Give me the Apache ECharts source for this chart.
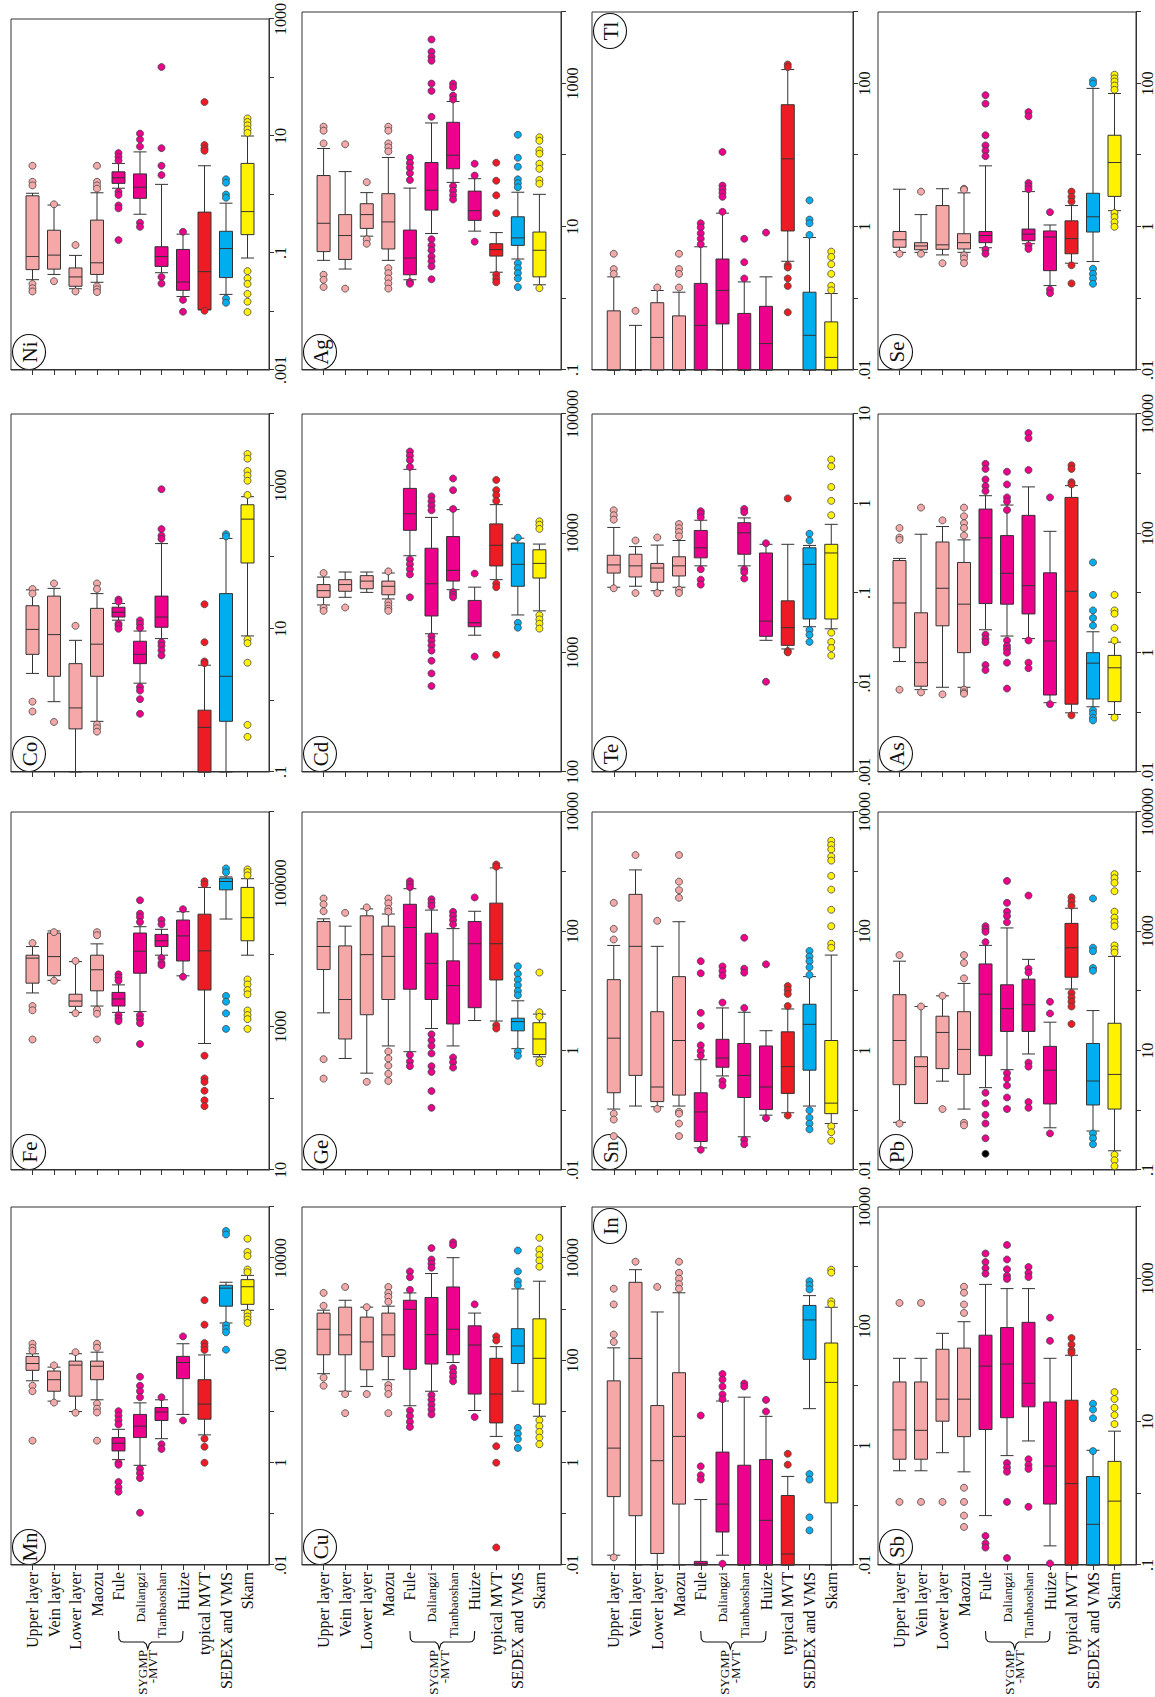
<!DOCTYPE html>
<html>
<head>
<meta charset="utf-8">
<script src="https://cdn.jsdelivr.net/npm/echarts@6/dist/echarts.min.js"></script>
<style>
  html, body { margin: 0; padding: 0; background: #fff; width: 1155px; height: 1697px; overflow: hidden; }
  /* the figure is laid out landscape and turned a quarter turn to fit the page */
  #chart { position: absolute; left: 0; top: 1697px; width: 1697px; height: 1155px;
           transform-origin: 0 0; transform: rotate(-90deg); }
</style>
</head>
<body>
<div id="chart"></div>
<script>
// ---------- categories ----------
const categories = ['Upper layer', 'Vein layer', 'Lower layer', 'Maozu', 'Fule', 'Daliangzi',
  'Tianbaoshan', 'Huize', 'typical MVT', 'SEDEX and VMS', 'Skarn'];

// ---------- box statistics [min, Q1, median, Q3, max] per category, and outliers ----------
const mnBox = [[40,64,87,120,135],[16,25,42,62,74],[10,20,81,97,135],[17,42,77,97,145],[1.15,1.7,2.4,3.1,4.5],[0.89,3.1,5.2,8.8,14.8],[2.95,6.7,9.8,12,17],[8.8,44,91,120,212],[3.5,7.1,14,42,128],[540,1150,2590,2950,3380],[955,1250,2760,3800,4600]];
const mnOut = [[212,177,155,32,25,2.7],[80,15],[145,9.5],[212,177,14.3,11.4,9.6,2.7],[10.2,8.3,6.8,5.6,1.0,0.91,0.42,0.33,0.27],[48,32,25,19,0.76,0.62,0.5,0.105],[19,2.3,1.85],[295,6.7],[1510,500,218,186,160,2.95,2.05,1.0],[34000,29000,490,420,355,162],[24000,13200,11000,6000,5300,850,720,630,540]];

const feBox = [[2970,4070,9100,10000,13200],[4460,5170,9560,20400,21800],[1590,1930,2290,2850,8130],[1950,3180,6260,10000,14400],[1590,1950,2450,3020,3850],[1630,5600,11350,20400,25000],[10000,13200,15900,19500,23000],[5150,8300,18600,31000,40500],[585,3260,11500,37400,88500],[32000,81800,107000,119000,124000],[10000,15900,33400,88500,117000]];
const feOut = [[14800,1950,1700,665],[21000,4400],[8300,1550],[21000,19000,1730,1520,665],[5400,4900,4400,1450,1300,1200],[58500,38000,34000,29000,1450,1280,1120,575],[31000,27000,9150,7800,7250],[44000,5000],[108000,98000,395,190,170,128,94,78],[163000,144000,2700,2240,1540,935],[158000,145000,130000,4580,3900,3260,2840,1690,1460,1280,935]];

const coBox = [[2.38,4.4,9.8,21,35],[0.96,2.17,8.3,28.6,36.7],[0.1,0.4,0.785,3.26,6.9],[0.51,2.17,6.1,19.3,31],[13.2,14.6,17,20,22.6],[1.74,3.26,4.4,6.7,9.3],[7.3,10.5,14.6,28.6,155],null,[0.1,0.1,0.42,0.73,3.1],[0.1,0.51,2.17,31,183],[7.95,83,340,540,700]];
const coOut = [[36,31,0.96,0.7],[43,0.5],[11],[43,36,0.46,0.41,0.366],[25.6,24,11.8,11.1,10],[13.1,11.7,10.3,1.54,1.37,1.04,0.65],[890,247,200,180,6.5,5.8,5.0,4.25],[],[22,6.5,3.5,3.3],[210,195],[2760,2380,1600,1380,1170,740,7.1,6.3,3.36,0.455,0.31]];

const niBox = [[0.035,0.052,0.087,0.95,1.05],[0.043,0.053,0.092,0.245,0.66],[0.0245,0.027,0.039,0.0556,0.091],[0.0316,0.043,0.068,0.365,1.07],[1.28,1.55,1.93,2.44,3.4],[0.46,0.86,1.33,2.25,5.35],[0.046,0.059,0.087,0.128,1.49],[0.018,0.023,0.032,0.115,0.21],[0.0107,0.0107,0.048,0.5,3.1],[0.0196,0.038,0.119,0.235,0.71],[0.082,0.206,0.51,3.4,10]];
const niOut = [[3.1,1.65,1.43,0.0295,0.025,0.022],[0.68,0.033],[0.137,0.022],[3.1,1.65,1.43,1.26,0.027,0.024,0.0215],[5.1,4.4,3.8,1.11,0.98,0.65,0.58,0.166],[11,8.7,6.6,0.33,0.28],[151,6.2,3.1,2.15,0.039,0.03],[0.23,0.0158,0.0099],[38,7.0,6.1,5.6,0.0103],[1.82,1.59,1.0,0.88,0.0166,0.0141],[20,17.4,15.2,13,11.3,0.049,0.037,0.0296,0.02,0.0147,0.0098]];

const cuBox = [[55,129,407,843,960],[25,129,316,1100,1500],[31,65.5,230,703,1100],[42,119,316,843,1150],[13,67,1000,1500,2090],[25,85,320,1700,5000],[91,129,407,2730,10200],[10.5,22,200,475,843],[3.27,6.0,22,110,186],[25,87,192,417,2500],[8.1,14,110,650,3540]];
const cuOut = [[2090,1170,46,32],[2730,22,9.3],[1100,22],[2730,2090,1750,1400,33,28,22,9.3],[5500,4250,2400,10.5,8.2,6.3,5.0],[15700,9400,7800,6500,21,17,13.6,11,8.8],[20400,18000,71,58,48,39],[1250,7.8],[295,245,2.1,1.0,0.022],[14100,5500,3540,2950,4.8,3.7,2.9,1.94],[25000,14800,11500,9000,6800,6.8,5.2,4.0,3.1,2.3]];

const geBox = [[4.3,22.9,55.7,146,162],[0.74,1.57,7.2,57,122],[0.42,4.0,40.7,182,238],[1.2,7.2,38,122,195],[0.96,10.7,116,284,518],[2.35,7.2,29,93,227],[1.2,2.8,12.3,32,111],[3.2,5.25,62,146,217],[3.14,15.3,62,297,1156],[1.08,2.15,3.07,3.5,6.85],[0.79,0.86,1.57,2.94,4.1]];
const geOut = [[355,284,217,0.72,0.34],[204],[252,0.3],[355,295,238,214,0.97,0.74,0.56,0.41,0.31],[690,615,550,0.85,0.66,0.55],[345,302,265,1.88,1.5,1.2,0.9,0.55,0.44,0.21,0.11],[212,182,155,130,0.77,0.64,0.52],[370],[1320,1210,2.67,2.35],[26,19.4,15.5,12.5,10,8.5,0.97,0.82],[20.4,4.4,3.7,0.69,0.62]];

const cdBox = [[2510,2910,3310,3720,4300],[2910,3270,3720,4090,4740],[3200,3430,3980,4420,4740],[2820,3055,3600,3980,4650],[6490,10600,14600,23800,34400],[1440,2030,3780,7500,13600],[3370,3980,4890,9400,15800],[1400,1650,1780,2740,3540],[4090,5330,7950,12000,17400],[2070,3600,5500,8300,9100],[2240,4220,5600,7280,8130]];
const cdOut = [[4650,2380,2240],[2390],[],[4800,2640,2480,2340,2240],[48500,44700,41000,36000,6050,5500,5000,4520,2910],[20400,18600,17000,15600,1370,1260,1150,1040,855,670,525],[28800,23000,16000,3220,3060,2910],[4600,927],[28000,23000,20900,18700,3800,3540,960],[9200,1780,1620],[12600,11800,10900,2060,1900,1750,1590]];

const agBox = [[3.4,4.5,11.2,52,124],[2.57,3.5,7.55,14.8,59],[7.4,9.5,14.8,21,30],[3.4,4.9,11.7,29,93],[1.82,2.14,3.67,9.0,34.7],[8.05,17.1,32.4,79,282],[41.7,64.6,100,288,562],[8.7,12.3,16.8,31.5,47],[2.32,3.9,4.8,5.8,8.3],[3.55,5.5,7.0,13.8,30.4],[1.55,2.0,4.7,8.45,28.4]];
const agOut = [[250,220,146,2.14,1.82,1.44],[142,1.37],[42,6.7,5.8],[250,220,146,129,113,2.64,2.25,1.9,1.62,1.37],[92,78,67,56,45,1.7,1.6],[4130,2790,2370,2080,1000,790,343,6.7,5.5,4.7,3.86,3.3,2.8,1.85],[1000,890,680,600,37,32,27.5,24],[76,52,6.2],[78.5,44,27.5,15.5,2.14,1.88,1.68],[193,92,69,46,40.6,35.7,3.1,2.64,2.25,1.9,1.44],[178,159,117,105,76,64.6,45,40,1.39]];

const inBox = [[0.0146,0.14,0.91,12.2,43.6],[0.01,0.067,29,547,890],[0.01,0.0156,0.56,4.7,174],[0.01,0.105,1.43,16.7,365],[0.01,0.01,0.0105,0.0115,0.125],[0.0146,0.0357,0.105,0.78,5.6],[0.01,0.01,0.01,0.47,6.5],[0.01,0.01,0.056,0.585,3.1],[0.01,0.01,0.0153,0.146,0.305],[4.17,28,128,224,327],[0.01,0.11,11.5,52.5,209]];
const inOut = [[427,233,73,54.6,0.0134],[1210],[458],[1210,790,630,510,427],[3.2,0.45,0.32,0.27],[15.9,12.8,9.8,7.2,6.0,0.0105],[11,9.8],[5.85,3.74],[0.73,0.48],[572,490,416,0.334,0.27,0.063,0.038],[890,795,262,234]];

const snBox = [[0.105,0.197,1.62,15.5,58],[0.118,0.385,56,417,1070],[0.115,0.14,0.246,4.5,56],[0.118,0.18,1.48,17.4,145],[0.0235,0.03,0.094,0.197,0.705],[0.377,0.527,0.753,1.55,5.2],[0.036,0.164,0.385,1.32,4.4],[0.083,0.103,0.246,1.2,2.16],[0.091,0.192,0.54,2.07,5.0],[0.118,0.471,2.76,6.0,17.4],[0.06,0.088,0.132,1.48,40]];
const snOut = [[300,110,73,0.088,0.07,0.037],[1900],[150,0.106],[1900,680,490,365,0.095,0.088,0.06,0.037],[31.6,19.8,4.3,2.6,1.23,0.99,0.82,0.0218],[25.8,21.6,18,6.4,0.31,0.26],[78,23.7,20.3,5.2,0.032,0.027],[28,0.074],[12.1,10.4,8.9,5.6,0.082],[47,38,31.6,25,18.6,0.1,0.075,0.06,0.048],[3300,2800,2350,1800,1530,850,500,230,122,62,53,0.054,0.043,0.031]];

const teBox = [[0.116,0.167,0.206,0.264,0.54],[0.119,0.151,0.201,0.271,0.33],[0.106,0.132,0.19,0.214,0.343],[0.116,0.155,0.201,0.254,0.386],[0.201,0.247,0.32,0.5,0.65],null,[0.201,0.271,0.47,0.61,0.69],[0.0296,0.0328,0.0485,0.28,0.35],[0.0237,0.026,0.041,0.0817,0.35],[0.042,0.0512,0.209,0.32,0.34],[0.0398,0.0512,0.28,0.35,0.585]];
const teOut = [[0.84,0.74,0.66,0.113],[0.386,0.1],[0.417,0.1],[0.59,0.53,0.48,0.43,0.109,0.1],[0.82,0.77,0.7,0.184,0.141,0.124],[],[0.87,0.8,0.184,0.17,0.145],[0.36,0.0102],[1.14,0.0225,0.0217],[0.46,0.386,0.0385,0.034,0.0284],[3.1,2.6,1.53,1.07,0.74,0.036,0.0284,0.0243,0.02]];

const tlBox = [[0.01,0.01,0.01,0.067,0.2],[0.01,0.01,0.01,0.01,0.042],[0.01,0.01,0.0285,0.087,0.129],[0.01,0.01,0.01,0.057,0.122],[0.01,0.01,0.042,0.162,0.526],[0.01,0.044,0.129,0.355,1.55],[0.01,0.01,0.01,0.0617,0.17],[0.01,0.01,0.0234,0.0775,0.2],[0.33,0.875,8.9,50.7,157],[0.01,0.01,0.0305,0.122,0.71],[0.01,0.01,0.015,0.047,0.117]];
const tlOut = [[0.42,0.257,0.22],[0.067],[0.142],[0.42,0.257,0.22,0.142],[1.12,0.98,0.81,0.68,0.57],[11.1,3.76,3.35,2.98,2.62,1.62],[0.68,0.32,0.19],[0.83],[185,170,0.29,0.27,0.19,0.149,0.064],[2.34,1.26,1.12,0.77],[0.45,0.38,0.3,0.22,0.15,0.13]];

const sbBox = [[2.07,3.0,7.7,36,77],[2.07,3.0,7.6,36,77],[3.7,10.2,20.7,103,172],[2.0,6.2,20.7,107,250],[0.49,7.8,60,162,830],[3.37,11.4,64,207,725],[5.4,16.2,34.5,245,725],[0.185,0.71,2.41,18.9,77],[0.1,0.1,1.37,20,85],[0.1,0.1,0.37,1.72,4.0],[0.1,0.1,0.78,2.8,7.4]];
const sbOut = [[457,0.76],[457,0.76],[0.76],[770,635,435,331,1.2,0.76,0.49,0.34],[2240,1700,1400,1170,0.255,0.2,0.175],[2950,1850,1350,1100,990,2.65,2.3,2.0,0.76,0.125],[1450,1200,1050,3.0,2.5,2.2,0.65],[285,135,0.105],[148,120,100,92],[17.9,14.8,11.2,3.9],[26,20.8,15.7,12.4,9.3]];

const pbBox = [[0.63,2.69,14.8,86.7,316],[1.3,1.3,5.4,7.9,55],[3.08,5.0,20.2,37.8,83],[1.05,4.0,10.5,45,134],[2.4,8.25,88.5,284,582],[4.8,21,50.6,127,1140],[8.8,21,59,158,339],[0.51,1.28,4.7,11.8,30],[108,170,530,1360,2440],[0.45,1.23,3.1,13.2,47],[0.21,1.05,4.0,28.8,380]];
const pbOut = [[400,0.6],[55],[83,1.05],[400,295,163,0.62,0.56],[1220,1090,980,660,1.97,1.31,0.84,0.6,0.34],[7000,3000,2140,1800,1420,4.2,3.4,2.6,1.64,1.05],[3980,237,204,6.3,5.4,1.38,1.1],[66,42,0.41],[3720,3200,2700,93,78,66,55,28],[3550,532,465,243,218,0.41,0.34,0.27],[9100,7800,6500,4700,2140,1700,1420,1220,580,500,440,0.18,0.146,0.116]];
// one Fule sample at Pb = 0.187 is marked in black
const pbFuleBlack = [0.187];

const asBox = [[0.71,1.21,6.8,35,38],[0.24,0.274,0.68,4.66,96.6],[0.263,2.82,12,71.6,130],[0.263,1.0,6.5,32.5,77.6],[2.42,6.65,84,255,427],[1.9,6.5,21.4,91.6,298],[1.72,4.46,13.3,200,600],[0.145,0.195,1.57,21.8,108],[0.098,0.137,10.7,400,630],[0.124,0.167,0.667,1.0,2.24],[0.092,0.151,0.558,0.9,1.5]];
const asOut = [[123,85,78,0.24],[270,0.216],[165,0.2],[270,193,148,123,92,0.24,0.216,0.205],[1460,1200,800,620,510,2.0,1.7,1.5,0.62,0.51],[1080,660,400,343,246,1.6,1.3,1.15,1.0,0.68,0.25],[4800,3930,1150,1.6,0.68,0.55],[400,0.137],[1380,1200,720,660,0.089],[32.5,9.3,5.1,3.8,2.84,0.108,0.095,0.081,0.073],[9.3,5.1,4.5,2.6,1.6,0.082]];

const seBox = [[0.44,0.518,0.66,0.86,3.35],[0.44,0.478,0.54,0.6,1.48],[0.405,0.485,0.56,1.98,3.4],[0.44,0.49,0.6,0.8,2.98],[0.51,0.6,0.755,0.86,7.1],null,[0.58,0.64,0.79,0.93,3.1],[0.151,0.244,0.72,0.875,1.06],[0.31,0.42,0.684,1.21,1.98],[0.327,0.845,1.38,2.94,85.7],[1.68,2.66,7.9,19,72.8]];
const seOut = [[0.42],[3.1,0.42],[0.31],[3.4,3.3,0.4,0.36,0.31],[69,52.5,19,13.7,11.5,9.7,0.48,0.42],[],[40,35,4.1,3.7,3.35,0.55,0.49],[1.6,0.133,0.118],[3.1,2.62,2.25,0.29,0.162],[110,100,0.26,0.22,0.19,0.16],[133,118,107,94,82,1.56,1.37,1.16,1.0]];

// value-axis decades (log10 of min and max) and labelling step
const axisDecades = {
  Mn: [-2, 5, 2], Fe: [1, 6, 2], Co: [-1, 4, 2], Ni: [-3, 3, 2],
  Cu: [-2, 5, 2], Ge: [-2, 4, 2], Cd: [2, 5, 1], Ag: [-1, 4, 2],
  In: [-2, 4, 2], Sn: [-2, 4, 2], Te: [-3, 1, 1], Tl: [-2, 3, 2],
  Sb: [-1, 4, 2], Pb: [-1, 5, 2], As: [-2, 4, 2], Se: [-2, 3, 2]
};

// ---------- styling ----------
const PINK = '#F6A8A8', MAGENTA = '#EC008C', RED = '#ED1C24', BLUE = '#00AEEF', YELLOW = '#FFF200';
const categoryColors = [PINK, PINK, PINK, PINK, MAGENTA, MAGENTA, MAGENTA, MAGENTA, RED, BLUE, YELLOW];
const SERIF = '"Liberation Serif", "DejaVu Serif", serif';
const INK = '#333';

// panel grid layout (landscape frame): rows top→bottom, columns left→right
const layout = [
  [['Mn', mnBox, mnOut], ['Fe', feBox, feOut], ['Co', coBox, coOut], ['Ni', niBox, niOut]],
  [['Cu', cuBox, cuOut], ['Ge', geBox, geOut], ['Cd', cdBox, cdOut], ['Ag', agBox, agOut]],
  [['In', inBox, inOut], ['Sn', snBox, snOut], ['Te', teBox, teOut], ['Tl', tlBox, tlOut]],
  [['Sb', sbBox, sbOut], ['Pb', pbBox, pbOut], ['As', asBox, asOut], ['Se', seBox, seOut]]
];
const colX = [132, 527, 925, 1327], colW = 358;
const rowY = [11, 302, 592, 878], rowH = [258, 259, 261, 259];
const tagOnRight = { Tl: true, In: true };

const axisCats = [''].concat(categories, ['']);

function decadeText(v) {
  const e = Math.round(Math.log10(v));
  return e < 0 ? '.' + '0'.repeat(-e - 1) + '1' : '1' + '0'.repeat(e);
}

const chart = echarts.init(document.getElementById('chart'), null, { renderer: 'svg', width: 1697, height: 1155 });

const grid = [], xAxis = [], yAxis = [], series = [], graphic = [];
const firstColIndex = [];
let k = 0;
layout.forEach(function (row, r) {
  row.forEach(function (cell, c) {
    const name = cell[0], boxes = cell[1], outs = cell[2];
    const dec = axisDecades[name];
    const left = colX[c], top = rowY[r], h = rowH[r];
    if (c === 0) firstColIndex[r] = k;

    grid.push({ left: left, top: top, width: colW, height: h, show: true,
      borderColor: INK, borderWidth: 1, backgroundColor: 'transparent' });

    xAxis.push({
      type: 'log', logBase: 10, gridIndex: k,
      min: Math.pow(10, dec[0]), max: Math.pow(10, dec[1]),
      axisLine: { show: true, lineStyle: { color: INK, width: 1 } },
      axisTick: { show: true, inside: false, length: 5, lineStyle: { color: INK, width: 1 } },
      minorTick: { show: false }, splitLine: { show: false },
      axisLabel: {
        show: true, margin: 3, fontFamily: SERIF, fontSize: 16, color: '#111',
        showMinLabel: true, showMaxLabel: true,
        formatter: function (v) {
          const e = Math.round(Math.log10(v));
          return ((e - dec[0]) % dec[2] === 0) ? decadeText(v) : '';
        }
      }
    });

    yAxis.push({
      type: 'category', gridIndex: k, data: axisCats, inverse: true, boundaryGap: false,
      axisLine: { show: true, lineStyle: { color: INK, width: 1 } },
      axisTick: { show: true, inside: false, length: 5, lineStyle: { color: INK, width: 1 },
        interval: function (i, v) { return v !== ''; } },
      splitLine: { show: false },
      axisLabel: {
        show: c === 0, margin: 7, fontFamily: SERIF, fontSize: 16, color: '#111',
        interval: function (i, v) { return v !== ''; },
        formatter: function (v) {
          return (v === 'Daliangzi' || v === 'Tianbaoshan') ? '{s|' + v + '}' : v;
        },
        rich: { s: { fontFamily: SERIF, fontSize: 13, color: '#111' } }
      }
    });

    const boxData = [];
    boxes.forEach(function (b, i) {
      if (!b) return;
      boxData.push({ value: [categories[i]].concat(b), itemStyle: { color: categoryColors[i] } });
    });
    series.push({
      type: 'boxplot', xAxisIndex: k, yAxisIndex: k, silent: true,
      encode: { y: 0, x: [1, 2, 3, 4, 5] },
      boxWidth: [13, 13],
      itemStyle: { borderColor: INK, borderWidth: 1 },
      emphasis: { disabled: true },
      data: boxData
    });

    const outData = [];
    outs.forEach(function (list, i) {
      list.forEach(function (v) {
        outData.push({ value: [v, categories[i]], itemStyle: { color: categoryColors[i] } });
      });
    });
    if (name === 'Pb') {
      pbFuleBlack.forEach(function (v) {
        outData.push({ value: [v, 'Fule'], itemStyle: { color: '#000' } });
      });
    }
    series.push({
      type: 'scatter', xAxisIndex: k, yAxisIndex: k, silent: true, z: 3,
      symbol: 'circle', symbolSize: 7,
      itemStyle: { borderColor: '#444', borderWidth: 0.8, opacity: 1 },
      emphasis: { disabled: true },
      data: outData
    });

    // circled element symbol in the panel corner
    const cx = tagOnRight[name] ? left + colW - 19 : left + 18;
    const cy = top + 18;
    graphic.push({
      type: 'group', z: 100, silent: true,
      children: [
        { type: 'ellipse', shape: { cx: cx, cy: cy, rx: 17.5, ry: 16.5 },
          style: { fill: '#fff', stroke: '#111', lineWidth: 1.1 } },
        { type: 'text', style: { text: name, x: cx, y: cy + 1, align: 'center', verticalAlign: 'middle',
          font: '21px ' + SERIF, fill: '#111' } }
      ]
    });
    k++;
  });
});

chart.setOption({
  animation: false,
  grid: grid, xAxis: xAxis, yAxis: yAxis, series: series, graphic: graphic
});

// brace grouping the SYGMP-MVT deposits beside the category labels
firstColIndex.forEach(function (idx) {
  const py = function (cat) { return chart.convertToPixel({ yAxisIndex: idx }, cat); };
  const yF = py('Fule'), yD = py('Daliangzi'), yT = py('Tianbaoshan'), yH = py('Huize');
  const mid = (yD + yT) / 2;
  const yTip = mid - 3;
  const xEnd = 66, xLine = 55, xTip = 48;
  graphic.push({
    type: 'polyline', silent: true,
    shape: { points: [
      [xEnd, yF], [xLine + 3, yF + 0.5], [xLine + 0.5, yF + 2.5], [xLine, yF + 5],
      [xLine, yTip - 4], [xLine - 2, yTip - 1.5], [xTip, yTip],
      [xLine - 2, yTip + 1.5], [xLine, yTip + 4],
      [xLine, yH - 5], [xLine + 0.5, yH - 2.5], [xLine + 3, yH - 0.5], [xEnd, yH]
    ] },
    style: { fill: 'none', stroke: '#111', lineWidth: 1.1 }
  });
  graphic.push({ type: 'text', silent: true, style: { text: 'SYGMP', x: 47, y: mid - 8.5,
    align: 'right', verticalAlign: 'middle', font: '13px ' + SERIF, fill: '#111' } });
  graphic.push({ type: 'text', silent: true, style: { text: '-MVT', x: 47, y: mid + 2,
    align: 'right', verticalAlign: 'middle', font: '13px ' + SERIF, fill: '#111' } });
});
chart.setOption({ graphic: graphic });
</script>
</body>
</html>
